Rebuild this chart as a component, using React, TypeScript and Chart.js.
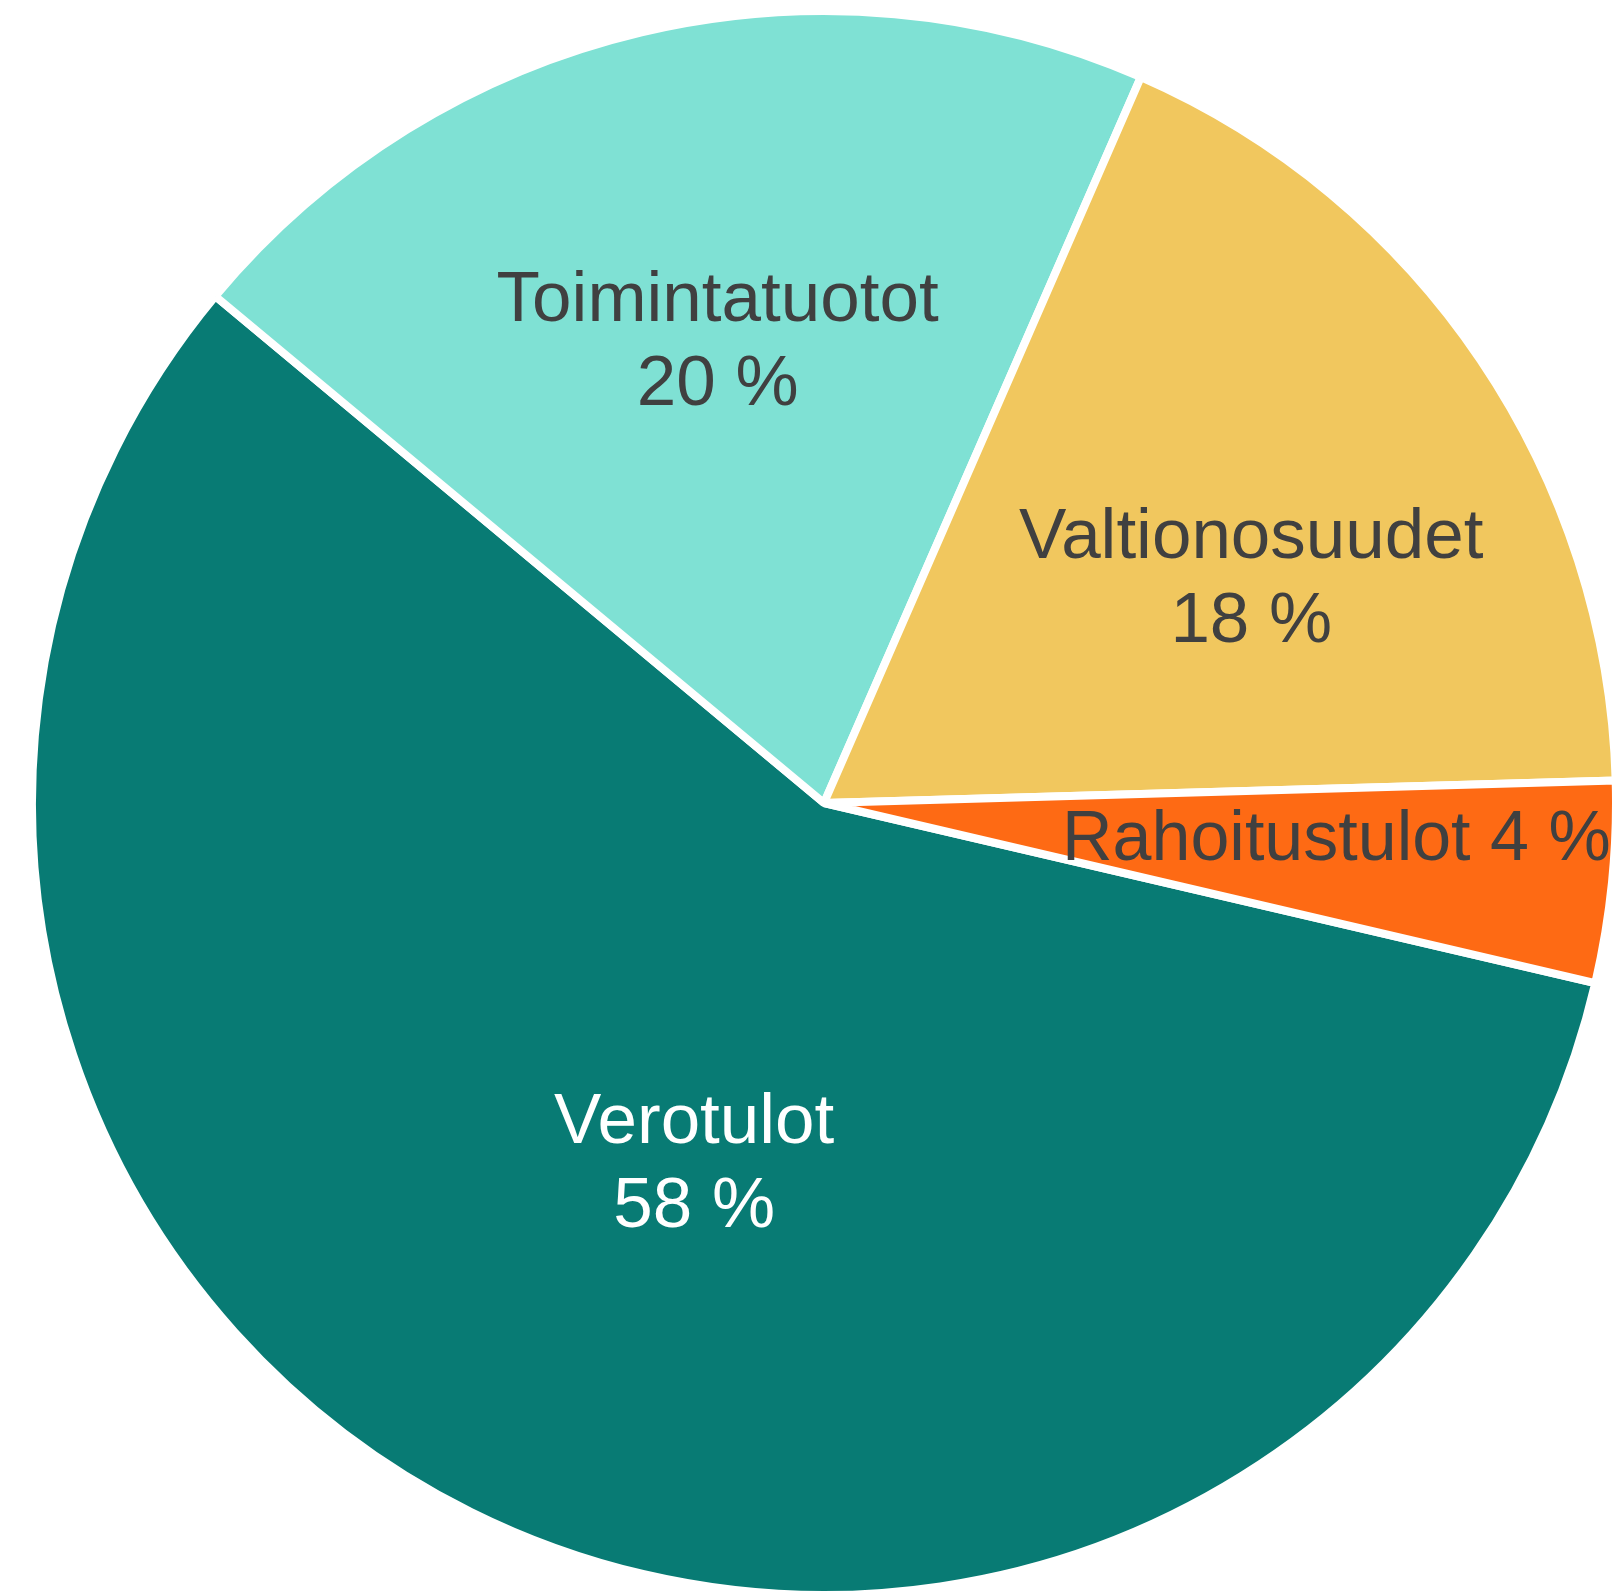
import React, { useEffect, useRef } from "react";
import { Chart, registerables } from "chart.js";

Chart.register(...registerables);

const categories = ["Verotulot", "Toimintatuotot", "Valtionosuudet", "Rahoitustulot"];
const values = [57.4, 20.5, 18.0, 4.1];
const percentLabels = ["58 %", "20 %", "18 %", "4 %"];
const colors = ["#087B74", "#7FE1D4", "#F1C75E", "#FE6A14"];
const textColors = ["#FFFFFF", "#404040", "#404040", "#404040"];
// label placement style: radius fraction, angle offset in degrees, single line?
const labelRadiusFrac = [0.479, 0.603, 0.612, 0.648];
const labelAngleOffset = [-6.45, 0.45, 5.85, -2.35];
const labelSingleLine = [false, false, false, true];

const FONT_SIZE = 71;
const LINE_H = 84;
const CAP_H = 52;

const labelPlugin = {
  id: "sliceLabels",
  afterDatasetsDraw(chart: any) {
    const ctx = chart.ctx;
    const meta = chart.getDatasetMeta(0);
    ctx.save();
    ctx.textAlign = "center";
    ctx.textBaseline = "alphabetic";
    meta.data.forEach((arc: any, i: number) => {
      const p = arc.getProps(["x", "y", "startAngle", "endAngle", "outerRadius"], true);
      const mid = (p.startAngle + p.endAngle) / 2 + (labelAngleOffset[i] * Math.PI) / 180;
      const rad = labelRadiusFrac[i] * p.outerRadius;
      const ax = p.x + Math.cos(mid) * rad;
      const ay = p.y + Math.sin(mid) * rad;
      ctx.fillStyle = textColors[i];
      if (labelSingleLine[i]) {
        ctx.font = `${FONT_SIZE - 1}px "Liberation Sans", Arial, sans-serif`;
        ctx.fillText(`${categories[i]} ${percentLabels[i]}`, ax, ay + CAP_H / 2);
      } else {
        ctx.font = `${FONT_SIZE}px "Liberation Sans", Arial, sans-serif`;
        const half = (CAP_H + LINE_H) / 2;
        ctx.fillText(categories[i], ax, ay - half + CAP_H);
        ctx.fillText(percentLabels[i], ax, ay + half);
      }
    });
    ctx.restore();
  },
};

export default function App() {
  const ref = useRef<HTMLCanvasElement | null>(null);
  useEffect(() => {
    document.body.style.margin = "0";
    const chart = new Chart(ref.current as HTMLCanvasElement, {
      type: "pie",
      data: {
        labels: categories,
        datasets: [
          {
            data: values,
            backgroundColor: colors,
            borderColor: "#FFFFFF",
            borderWidth: 8,
          },
        ],
      },
      options: {
        responsive: false,
        animation: false,
        rotation: 103.14,
        radius: 792,
        layout: { padding: { left: 29, top: 11, right: 0, bottom: 0 } },
        plugins: {
          legend: { display: false },
          tooltip: { enabled: false },
        },
      } as any,
      plugins: [labelPlugin],
    });
    return () => chart.destroy();
  }, []);
  return (
    <div style={{ position: "absolute", left: 0, top: 0, width: 1619, height: 1595, background: "#fff" }}>
      <canvas ref={ref} width={1619} height={1595} style={{ display: "block" }} />
    </div>
  );
}
